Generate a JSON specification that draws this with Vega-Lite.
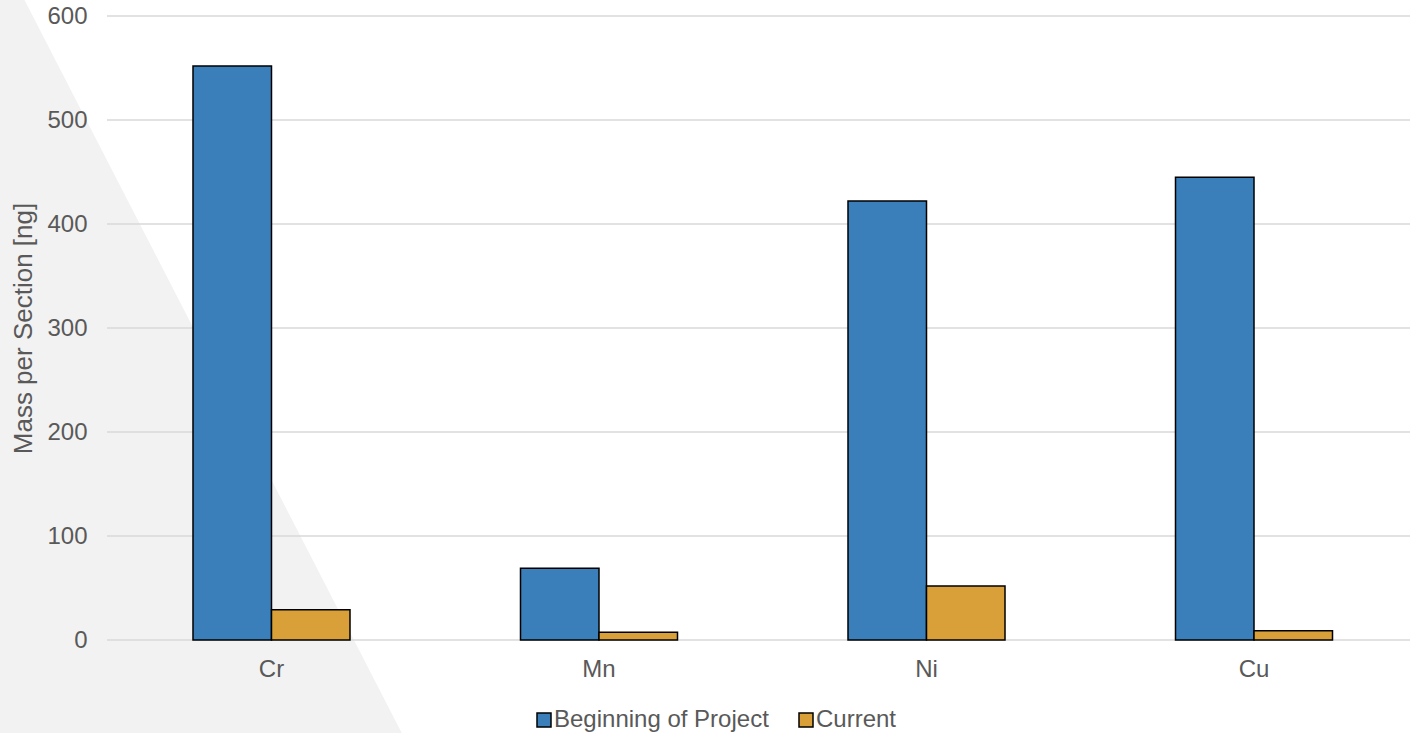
{
  "$schema": "https://vega.github.io/schema/vega-lite/v6.json",
  "width": 1303,
  "height": 624,
  "autosize": {"type": "none"},
  "padding": {"left": 107, "top": 16, "right": 0, "bottom": 93},
  "background": "#FFFFFF",
  "config": {
    "view": {"stroke": null},
    "font": "Liberation Sans",
    "axis": {"labelColor": "#595959", "titleColor": "#595959", "labelFont": "Liberation Sans", "titleFont": "Liberation Sans", "titleFontWeight": "normal"},
    "legend": {"labelColor": "#595959", "labelFont": "Liberation Sans"}
  },
  "datasets": {
    "masses": [
      {"element": "Cr", "series": "Beginning of Project", "value": 552},
      {"element": "Cr", "series": "Current", "value": 29},
      {"element": "Mn", "series": "Beginning of Project", "value": 69},
      {"element": "Mn", "series": "Current", "value": 7.5},
      {"element": "Ni", "series": "Beginning of Project", "value": 422},
      {"element": "Ni", "series": "Current", "value": 52},
      {"element": "Cu", "series": "Beginning of Project", "value": 445},
      {"element": "Cu", "series": "Current", "value": 9}
    ],
    "gridlines": [
      {"value": 0}, {"value": 100}, {"value": 200}, {"value": 300},
      {"value": 400}, {"value": 500}, {"value": 600}
    ],
    "backdrop": [
      {"u": -0.09, "top": 620, "bottom": -95},
      {"u": -0.0652, "top": 620, "bottom": -95},
      {"u": 0.2285, "top": -95, "bottom": -95}
    ]
  },
  "resolve": {"scale": {"x": "independent"}},
  "layer": [
    {
      "data": {"name": "backdrop"},
      "mark": {"type": "area", "color": "#F2F2F2", "clip": false, "orient": "vertical"},
      "encoding": {
        "x": {"field": "u", "type": "quantitative", "scale": {"domain": [0, 1], "nice": false, "zero": false}, "axis": null},
        "y": {
          "field": "top", "type": "quantitative", "scale": {"domain": [0, 600], "nice": false},
          "axis": {"title": "Mass per Section [ng]", "values": [0, 100, 200, 300, 400, 500, 600], "labelFontSize": 24, "titleFontSize": 26, "labelPadding": 20, "titlePadding": 10, "ticks": false, "domain": false, "grid": false, "zindex": 1}
        },
        "y2": {"field": "bottom"}
      }
    },
    {
      "data": {"name": "gridlines"},
      "mark": {"type": "rule", "color": "#D9D9D9", "strokeWidth": 1.5},
      "encoding": {
        "y": {
          "field": "value", "type": "quantitative",
          "axis": {"title": "Mass per Section [ng]", "values": [0, 100, 200, 300, 400, 500, 600], "labelFontSize": 24, "titleFontSize": 26, "labelPadding": 20, "titlePadding": 10, "ticks": false, "domain": false, "grid": false, "zindex": 1}
        }
      }
    },
    {
      "data": {"name": "masses"},
      "mark": {"type": "bar", "stroke": "#000000", "strokeWidth": 1.5},
      "encoding": {
        "x": {
          "field": "element",
          "type": "nominal",
          "sort": ["Cr", "Mn", "Ni", "Cu"],
          "scale": {"paddingInner": 0.5206, "paddingOuter": 0.2496, "align": 0.526},
          "axis": {"title": null, "labelAngle": 0, "labelFontSize": 24, "labelPadding": 17, "ticks": false, "domain": false, "grid": false, "zindex": 1}
        },
        "xOffset": {
          "field": "series",
          "type": "nominal",
          "sort": ["Beginning of Project", "Current"],
          "scale": {"paddingInner": 0, "paddingOuter": 0}
        },
        "y": {
          "field": "value",
          "type": "quantitative",
          "axis": {"title": "Mass per Section [ng]", "values": [0, 100, 200, 300, 400, 500, 600], "labelFontSize": 24, "titleFontSize": 26, "labelPadding": 20, "titlePadding": 10, "ticks": false, "domain": false, "grid": false, "zindex": 1}
        },
        "color": {
          "field": "series",
          "type": "nominal",
          "scale": {"domain": ["Beginning of Project", "Current"], "range": ["#3A7EBA", "#D9A03A"]},
          "legend": {
            "title": null,
            "orient": "none",
            "direction": "horizontal",
            "legendX": 425,
            "legendY": 692,
            "symbolType": "square",
            "symbolSize": 196,
            "symbolStrokeColor": "#000000",
            "symbolStrokeWidth": 1.5,
            "symbolOpacity": 1,
            "labelFontSize": 24,
            "labelOffset": -2,
            "labelLimit": 0,
            "columnPadding": 25
          }
        }
      }
    }
  ]
}
